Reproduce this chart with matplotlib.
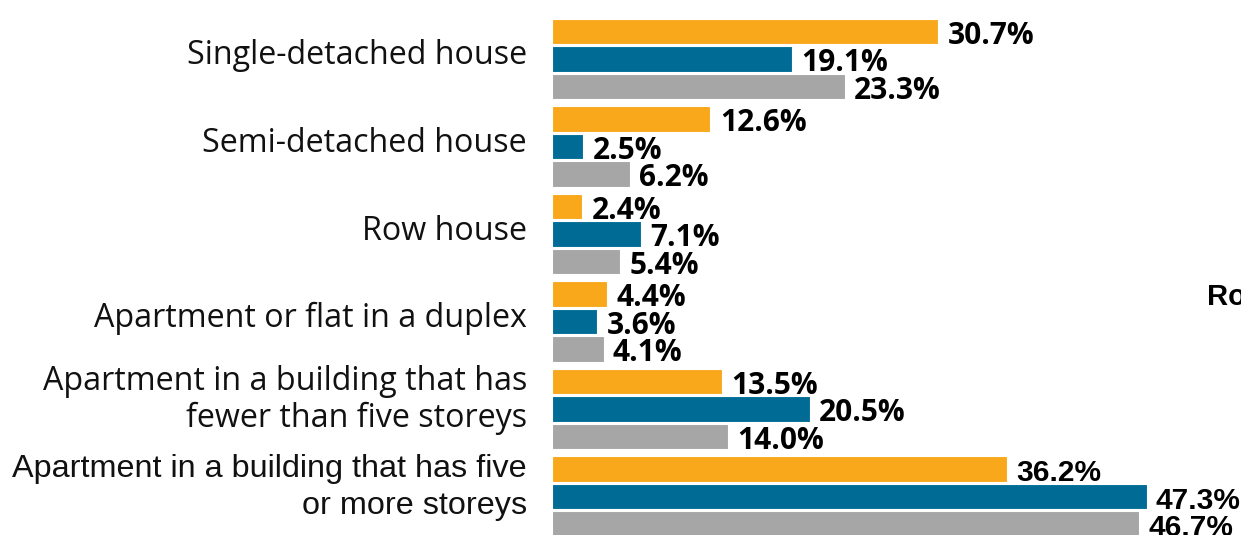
import numpy as np
import matplotlib
matplotlib.use("Agg")
from matplotlib import pyplot as plt

categories = ["Single-detached house", "Semi-detached house", "Row house",
              "Apartment or flat in a duplex",
              "Apartment in a building that has\nfewer than five storeys",
              "Apartment in a building that has five\nor more storeys"]
orange_vals = [30.7, 12.6, 2.4, 4.4, 13.5, 36.2]
blue_vals = [19.1, 2.5, 7.1, 3.6, 20.5, 47.3]
gray_vals = [23.3, 6.2, 5.4, 4.1, 14.0, 46.7]

colors = ["#F9A81B", "#006C96", "#A6A6A6"]
series = [orange_vals, blue_vals, gray_vals]

fig = plt.figure(figsize=(12.41, 5.35), dpi=100)
ax = fig.add_axes([552 / 1241, 0, 1 - 552 / 1241, 1])

y = np.arange(len(categories))
step = 0.315
for k, vals in enumerate(series):
    pos = y + (k - 1) * step
    ax.barh(pos, vals, height=0.29, color=colors[k], edgecolor="white", linewidth=0.8)
    for i, (p, v) in enumerate(zip(pos, vals)):
        last = i == len(categories) - 1
        fam = "Liberation Sans" if last else "Open Sans"
        ax.text(v + 0.75, p + 0.05, f"{v:.1f}%", ha="left", va="center",
                fontsize=21.5, fontweight="bold", family=fam, color="black")

ax.set_xlim(0, 689 / 12.57)
ax.set_ylim((535 - 59) / 87.5, -59 / 87.5)
ax.axis("off")

for i, cat in enumerate(categories):
    last = i == len(categories) - 1
    fam = "Liberation Sans" if last else "Open Sans"
    fs = 23.3 if last else 23.2
    yc = 59 + 87.5 * i - 3 - (6 if "\n" in cat else 0)
    fig.text(527 / 1241, 1 - yc / 535, cat,
             ha="right", va="center", fontsize=fs, family=fam, color="#111111",
             linespacing=1.3 if last else 1.18, multialignment="right")

fig.text(1207 / 1241, 1 - 297 / 535, "Ro", ha="left", va="center",
         fontsize=21, fontweight="bold", family="Liberation Sans")

fig.savefig("out.png", dpi=100)
